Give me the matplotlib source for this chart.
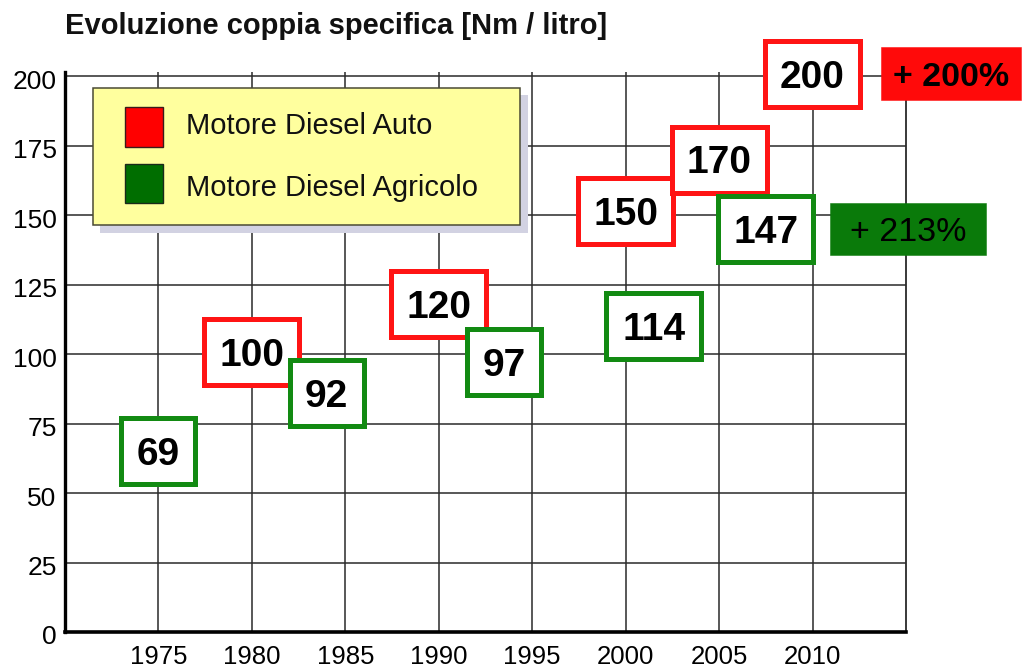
import matplotlib
matplotlib.use("Agg")
import matplotlib.pyplot as plt
import matplotlib.transforms as mtransforms
from matplotlib.patches import Rectangle

# ---------------- data ----------------
title = "Evoluzione coppia specifica [Nm / litro]"
auto_label = "Motore Diesel Auto"
agri_label = "Motore Diesel Agricolo"

auto_years = [1980, 1990, 2000, 2005, 2010]
auto_values = [100, 120, 150, 170, 200]

agri_years = [1975, 1984, 1993.5, 2001.5, 2007.5]
agri_values = [69, 92, 97, 114, 147]

growth_labels = ["+ 200%", "+ 213%"]

x_ticks = [1975, 1980, 1985, 1990, 1995, 2000, 2005, 2010]
y_ticks = [0, 25, 50, 75, 100, 125, 150, 175, 200]

# ---------------- layout / style ----------------
W, H = 1027, 672
FONT = "Liberation Sans"
RED_EDGE = "#FF1414"
GREEN_EDGE = "#128A12"
RED_FILL = "#FF0A0A"
GREEN_FILL = "#0A7A0A"

# small vertical nudges of the label boxes (value units), as in the original slide
auto_dy = [0.7, -2, 1.4, 0, 0.7]
agri_dy = [-4, -6, 0, -4, -2]

fig = plt.figure(figsize=(W / 100, H / 100), dpi=100)
fig.patch.set_facecolor("white")

ax_l, ax_t, ax_r, ax_b = 65, 72, 906, 632
ax = fig.add_axes([ax_l / W, (H - ax_b) / H, (ax_r - ax_l) / W, (ax_b - ax_t) / H])
ax.set_xlim(1970, 2015)
ax.set_ylim(0, 201.5)
ax.set_facecolor("white")

ax.set_xticks(x_ticks)
ax.set_yticks(y_ticks)
ax.set_xticklabels([str(t) for t in x_ticks], fontsize=18.5, family=FONT)
ax.set_yticklabels([str(t) for t in y_ticks], fontsize=19, family=FONT)
ax.tick_params(axis="both", length=0)
ax.tick_params(axis="x", pad=9)
ax.tick_params(axis="y", pad=6)
shift = mtransforms.ScaledTranslation(0, -3 / 100, fig.dpi_scale_trans)
for lab in ax.get_yticklabels():
    lab.set_transform(lab.get_transform() + shift)

ax.grid(True, color="#2a2a2a", linewidth=1.1, zorder=0)
ax.set_axisbelow(True)
ax.spines["top"].set_visible(False)
ax.spines["right"].set_linewidth(1.3)
ax.spines["right"].set_color("#2a2a2a")
ax.spines["left"].set_linewidth(2.4)
ax.spines["bottom"].set_linewidth(2.6)

pxx = (ax_r - ax_l) / (2015 - 1970)
pxy = (ax_b - ax_t) / 201.5


def label_box(x, y, text, w_px, h_px, edge, face="white", lw_px=5,
              fs=28, weight="bold"):
    w = (w_px - lw_px) / pxx
    h = (h_px - lw_px) / pxy
    ax.add_patch(Rectangle((x - w / 2, y - h / 2), w, h, facecolor=face,
                           edgecolor=edge, linewidth=lw_px * 0.72,
                           clip_on=False, zorder=3))
    cap = 0.716 * fs * 100 / 72
    ax.text(x, y - (cap / 2) / pxy, text, ha="center", va="baseline",
            fontsize=fs, fontweight=weight, family=FONT, color="black",
            zorder=4, clip_on=False)


for yr, v, dy in zip(auto_years, auto_values, auto_dy):
    w = 100 if len(str(v)) == 3 else 79
    label_box(yr, v + dy, str(v), w, 71, RED_EDGE)

for yr, v, dy in zip(agri_years, agri_values, agri_dy):
    w = 100 if len(str(v)) == 3 else 79
    label_box(yr, v + dy, str(v), w, 71, GREEN_EDGE)

# growth labels (filled boxes to the right of the last values)
label_box(auto_years[-1] + 7.4, auto_values[-1] + 1, growth_labels[0], 141, 53,
          RED_FILL, face=RED_FILL, lw_px=0.5, fs=24.5, weight="bold")
label_box(agri_years[-1] + 7.6, agri_values[-1] - 2, growth_labels[1], 156, 53,
          GREEN_FILL, face=GREEN_FILL, lw_px=0.5, fs=24.5, weight="normal")

# ---------------- legend (drawn as on the slide) ----------------
def fx(x):
    return x / W


def fy(y):
    return 1 - y / H


def frect(x0, y0, x1, y1, **kw):
    fig.patches.append(Rectangle((fx(x0), fy(y1)), fx(x1) - fx(x0),
                                 fy(y0) - fy(y1), transform=fig.transFigure,
                                 figure=fig, **kw))


frect(100, 95, 528, 233, facecolor="#D2D2E2", edgecolor="none", zorder=5)
frect(93, 88, 520, 225, facecolor="#FFFF9E", edgecolor="#4a4a34",
      linewidth=1.1, zorder=6)
frect(125, 107, 163, 147, facecolor="#FF0000", edgecolor="#3a1a1a",
      linewidth=1.0, zorder=7)
frect(125, 164, 163, 203, facecolor="#006E00", edgecolor="#1a2a1a",
      linewidth=1.0, zorder=7)
fig.text(fx(186), fy(134), auto_label, fontsize=21, family=FONT,
         va="baseline", ha="left", color="#111111", zorder=8)
fig.text(fx(186), fy(196), agri_label, fontsize=21, family=FONT,
         va="baseline", ha="left", color="#111111", zorder=8)

# ---------------- title ----------------
fig.text(fx(65), fy(34), title, fontsize=21, fontweight="bold", family=FONT,
         va="baseline", ha="left", color="#111111")

fig.savefig("out.png", dpi=100, facecolor="white")
